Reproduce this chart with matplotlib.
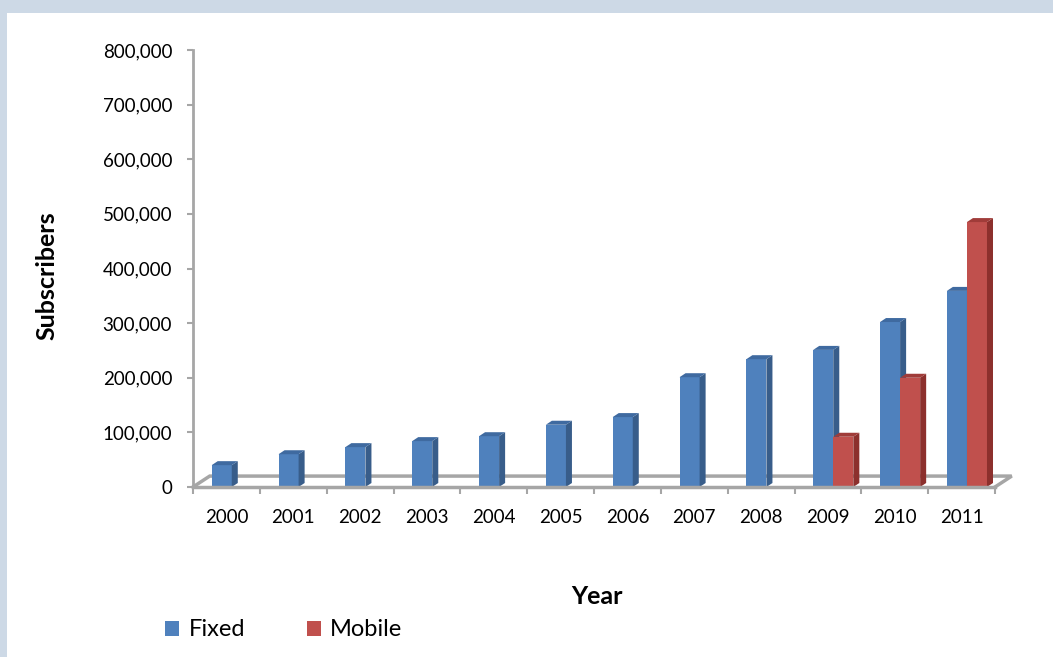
import matplotlib
matplotlib.use("Agg")
import matplotlib.pyplot as plt
from matplotlib.patches import Polygon, Rectangle
from matplotlib.ticker import FuncFormatter, FixedLocator

plt.rcParams['font.family'] = ['Lato', 'DejaVu Sans']

# Datos
years = ['2000', '2001', '2002', '2003', '2004', '2005',
         '2006', '2007', '2008', '2009', '2010', '2011']
fixed = [40000, 60000, 73000, 84000, 93000, 114000,
         128000, 201000, 234000, 251000, 302000, 359000]
mobile = [0, 0, 0, 0, 0, 0, 0, 0, 0, 92000, 200000, 485000]

W, H = 1053, 657
fig = plt.figure(figsize=(W / 100, H / 100), dpi=100)
fig.patch.set_facecolor('#CDD9E6')
fig.patches.append(Rectangle((7 / W, 0), 1, 1 - 13 / H, transform=fig.transFigure,
                             facecolor='white', edgecolor='none', zorder=-5))

ax = fig.add_axes([193 / W, (H - 487) / H, 802 / W, 437 / H])
ax.set_facecolor('none')
ax.set_xlim(0, 12)
ax.set_ylim(0, 800000)

gris = '#A6A6A6'
for s in ['top', 'right', 'bottom']:
    ax.spines[s].set_visible(False)
ax.spines['left'].set_color(gris)
ax.spines['left'].set_linewidth(2)

ax.yaxis.set_major_locator(FixedLocator(range(0, 800001, 100000)))
ax.yaxis.set_major_formatter(FuncFormatter(lambda v, p: f"{int(v):,}"))
ax.tick_params(axis='y', length=4, width=1.5, color=gris, pad=11, labelsize=13.5)

ax.set_xticks([i + 0.5 for i in range(len(years))])
ax.set_xticklabels(years)
ax.set_xticks(range(len(years) + 1), minor=True)
ax.tick_params(axis='x', which='major', length=0, pad=16, labelsize=13.5)
ax.tick_params(axis='x', which='minor', length=5, width=1.5, color=gris)

# suelo 3D
dxf, dyf = 0.25, 20000
ax.plot([0, dxf, 12 + dxf, 12], [0, dyf, dyf, 0], color=gris, lw=2.5,
        clip_on=False, zorder=1, solid_joinstyle='miter')
ax.plot([0, 12], [0, 0], color=gris, lw=2.5, clip_on=False, zorder=40)

# barras 3D
dx, dy = 0.09, 7300
bw = 0.3


def barra3d(x0, h, front, side, top, z):
    if h <= 0:
        return
    ax.bar(x0, h, width=bw, align='edge', color=front, zorder=z)
    x1 = x0 + bw
    ax.add_patch(Polygon([(x1, 0), (x1 + dx, dy), (x1 + dx, h + dy), (x1, h)],
                         closed=True, facecolor=side, edgecolor='none', zorder=z))
    ax.add_patch(Polygon([(x0, h), (x0 + dx, h + dy), (x1 + dx, h + dy), (x1, h)],
                         closed=True, facecolor=top, edgecolor='none', zorder=z))


for i in range(len(years)):
    barra3d(i + 0.28, fixed[i], '#4F81BD', '#385D8A', '#3F6AA0', 3 + 2 * i)
    barra3d(i + 0.58, mobile[i], '#C0504D', '#8C302D', '#A03C39', 4 + 2 * i)

fig.text(47 / W, 1 - 276 / H, 'Subscribers', rotation=90, fontsize=18,
         fontweight='bold', ha='center', va='center')
fig.text(597 / W, 1 - 597 / H, 'Year', fontsize=18, fontweight='bold',
         ha='center', va='center')

hf = Rectangle((0, 0), 1, 1, facecolor='#4F81BD')
hm = Rectangle((0, 0), 1, 1, facecolor='#C0504D')
fig.legend([hf, hm], ['Fixed', 'Mobile'], loc='center left',
           bbox_to_anchor=(144 / W, 1 - 630 / H), ncol=2, frameon=False,
           fontsize=17, handlelength=0.6, handleheight=0.6,
           handletextpad=0.4, columnspacing=2.6)

fig.savefig('out.png', dpi=100)
